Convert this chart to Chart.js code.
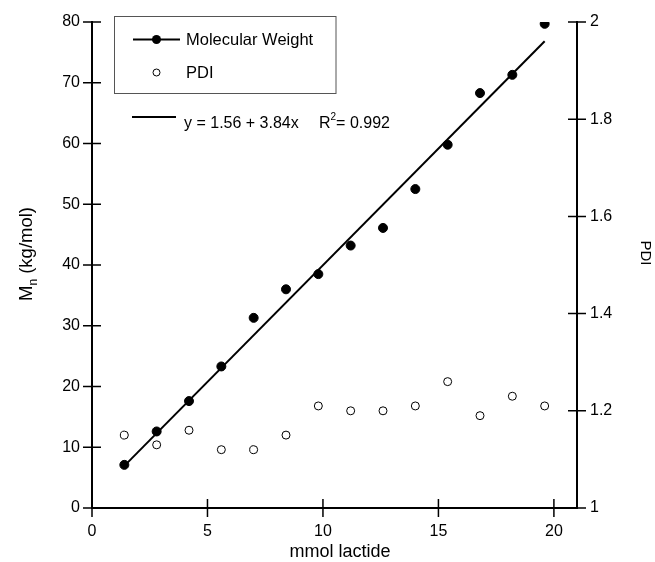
<!DOCTYPE html>
<html>
<head>
<meta charset="utf-8">
<script src="https://cdn.jsdelivr.net/npm/chart.js@4/dist/chart.umd.min.js"></script>
<style>
  html, body { margin: 0; padding: 0; background: #fff; }
  #wrap { width: 655px; height: 562px; position: relative; }
</style>
</head>
<body>
<div id="wrap"><canvas id="chart" width="655" height="562"></canvas></div>
<script>
// data
const lactide = [1.4, 2.8, 4.2, 5.6, 7.0, 8.4, 9.8, 11.2, 12.6, 14.0, 15.4, 16.8, 18.2, 19.6];
const molWeight = [7.1, 12.6, 17.6, 23.3, 31.3, 36.0, 38.5, 43.2, 46.1, 52.5, 59.8, 68.3, 71.3, 79.7];
const pdi = [1.15, 1.13, 1.16, 1.12, 1.12, 1.15, 1.21, 1.20, 1.20, 1.21, 1.26, 1.19, 1.23, 1.21];

// linear fit as printed on the figure
const fitIntercept = 1.56;
const fitSlope = 3.84;
const fitRange = [1.4, 19.6];

const xTicks = [0, 5, 10, 15, 20];
const mwTicks = [0, 10, 20, 30, 40, 50, 60, 70, 80];
const pdiTicks = [1, 1.2, 1.4, 1.6, 1.8, 2];

const FONT = '"Liberation Sans", Arial, sans-serif';
const TICK = 9;

const fitPoints = fitRange.map(x => ({ x: x, y: fitIntercept + fitSlope * x }));

// tick marks crossing the axes, legend box, fit label, axis titles
const decorations = {
    id: 'decorations',
    afterDraw(chart) {
        const ctx = chart.ctx;
        const area = chart.chartArea;
        const sx = chart.scales.x, sy = chart.scales.y, sy1 = chart.scales.y1;
        ctx.save();
        ctx.strokeStyle = '#000';
        ctx.lineWidth = 1.5;
        ctx.beginPath();
        xTicks.forEach(v => {
            const px = sx.getPixelForValue(v);
            ctx.moveTo(px, area.bottom - TICK);
            ctx.lineTo(px, area.bottom + TICK);
        });
        mwTicks.forEach(v => {
            const py = sy.getPixelForValue(v);
            ctx.moveTo(area.left - TICK, py);
            ctx.lineTo(area.left + TICK, py);
        });
        pdiTicks.forEach(v => {
            const py = sy1.getPixelForValue(v);
            ctx.moveTo(area.right - TICK, py);
            ctx.lineTo(area.right + TICK, py);
        });
        ctx.stroke();

        // legend box
        ctx.strokeStyle = '#555';
        ctx.lineWidth = 1;
        ctx.strokeRect(114.5, 16.5, 221.5, 77);

        ctx.fillStyle = '#000';
        ctx.font = '16.5px ' + FONT;
        ctx.textBaseline = 'middle';
        ctx.textAlign = 'left';

        // Molecular Weight entry
        ctx.strokeStyle = '#000';
        ctx.lineWidth = 2;
        ctx.beginPath();
        ctx.moveTo(133, 39.5);
        ctx.lineTo(180, 39.5);
        ctx.stroke();
        ctx.beginPath();
        ctx.arc(156.5, 39.5, 4.5, 0, Math.PI * 2);
        ctx.fill();
        ctx.fillText('Molecular Weight', 186, 40);

        // PDI entry
        ctx.lineWidth = 1;
        ctx.beginPath();
        ctx.arc(156.5, 72.5, 3.5, 0, Math.PI * 2);
        ctx.stroke();
        ctx.fillText('PDI', 186, 73);

        // fit label
        ctx.font = '16px ' + FONT;
        ctx.lineWidth = 2;
        ctx.beginPath();
        ctx.moveTo(132, 117);
        ctx.lineTo(176, 117);
        ctx.stroke();
        ctx.fillText('y = 1.56 + 3.84x', 184, 124);
        let tx = 319;
        ctx.fillText('R', tx, 124);
        tx += ctx.measureText('R').width;
        ctx.font = '10px ' + FONT;
        ctx.fillText('2', tx, 117);
        tx += ctx.measureText('2').width;
        ctx.font = '16px ' + FONT;
        ctx.fillText('= 0.992', tx, 124);

        // x title
        ctx.textAlign = 'center';
        ctx.font = '18px ' + FONT;
        ctx.fillText('mmol lactide', 340, 552);

        // right title, reads top to bottom
        ctx.save();
        ctx.translate(645, 253);
        ctx.rotate(Math.PI / 2);
        ctx.font = '15px ' + FONT;
        ctx.fillText('PDI', 0, 0);
        ctx.restore();

        // left title with subscript
        ctx.textAlign = 'left';
        ctx.translate(27, 254);
        ctx.rotate(-Math.PI / 2);
        ctx.font = '18.5px ' + FONT;
        const wM = ctx.measureText('M').width;
        ctx.font = '12px ' + FONT;
        const wN = ctx.measureText('n').width;
        ctx.font = '18.5px ' + FONT;
        const wRest = ctx.measureText(' (kg/mol)').width;
        let ox = -(wM + wN + wRest) / 2;
        ctx.fillText('M', ox, 0);
        ox += wM;
        ctx.font = '12px ' + FONT;
        ctx.fillText('n', ox, 7);
        ox += wN;
        ctx.font = '18.5px ' + FONT;
        ctx.fillText(' (kg/mol)', ox, 0);
        ctx.restore();
    }
};

const tickFont = { family: FONT, size: 16 };

new Chart(document.getElementById('chart'), {
    type: 'scatter',
    data: {
        datasets: [
            {
                label: 'Fit',
                type: 'line',
                data: fitPoints,
                borderColor: '#000',
                borderWidth: 2,
                pointRadius: 0,
                fill: false,
                yAxisID: 'y'
            },
            {
                label: 'Molecular Weight',
                data: lactide.map((x, i) => ({ x: x, y: molWeight[i] })),
                backgroundColor: '#000',
                borderColor: '#000',
                pointRadius: 4.5,
                yAxisID: 'y'
            },
            {
                label: 'PDI',
                data: lactide.map((x, i) => ({ x: x, y: pdi[i] })),
                backgroundColor: '#fff',
                borderColor: '#000',
                borderWidth: 1,
                pointRadius: 4,
                yAxisID: 'y1'
            }
        ]
    },
    options: {
        responsive: false,
        animation: false,
        devicePixelRatio: 1,
        layout: { padding: { top: 22, left: 0, right: 0, bottom: 0 } },
        plugins: {
            legend: { display: false },
            tooltip: { enabled: false }
        },
        scales: {
            x: {
                type: 'linear',
                min: 0,
                max: 21,
                afterBuildTicks: s => { s.ticks = xTicks.map(v => ({ value: v })); },
                afterFit: s => { s.height = 54; },
                grid: { display: false, drawTicks: true, tickLength: TICK },
                border: { display: true, color: '#000', width: 2 },
                ticks: { color: '#000', font: tickFont, padding: 5, maxRotation: 0 }
            },
            y: {
                position: 'left',
                min: 0,
                max: 80,
                afterBuildTicks: s => { s.ticks = mwTicks.map(v => ({ value: v })); },
                afterFit: s => { s.width = 92; },
                grid: { display: false, drawTicks: true, tickLength: TICK },
                border: { display: true, color: '#000', width: 2 },
                ticks: { color: '#000', font: tickFont, padding: 3 }
            },
            y1: {
                position: 'right',
                min: 1,
                max: 2,
                afterBuildTicks: s => { s.ticks = pdiTicks.map(v => ({ value: v })); },
                afterFit: s => { s.width = 78; },
                grid: { display: false, drawTicks: true, tickLength: TICK },
                border: { display: true, color: '#000', width: 2 },
                ticks: {
                    color: '#000',
                    font: tickFont,
                    padding: 4,
                    callback: v => String(Math.round(v * 10) / 10)
                }
            }
        }
    },
    plugins: [decorations]
});
</script>
</body>
</html>
